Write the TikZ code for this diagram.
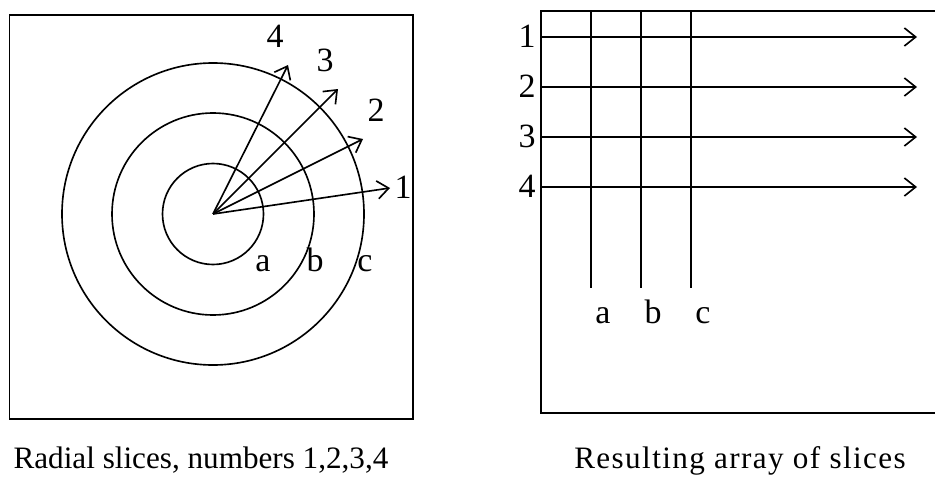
\documentclass[tikz,border=0pt]{standalone}
\usepackage{fontspec}
\setmainfont{Liberation Serif}
\newfontfamily\anchafont[LetterSpace=4.5]{Liberation Serif}
\usetikzlibrary{positioning,arrows.meta}

\begin{document}
\begin{tikzpicture}[x=0.03cm, y=-0.03cm,
  linea/.style={line width=1.4pt},
  flecha/.style={linea, -{Straight Barb[length=3.4mm, width=5.4mm, line width=1.4pt]}},
  etiq/.style={font=\fontsize{29}{29}\selectfont, inner sep=0pt, anchor=base},
  titulo/.style={font=\fontsize{26.6}{26.6}\selectfont, inner sep=0pt, anchor=base}]
  \useasboundingbox (0,0) rectangle (935,482);
  % cortes radiales
  \draw[linea] (9.5,14.7) rectangle (413,419);
  \coordinate (o) at (213,214);
  \foreach \r in {50.5,101,151}
    \draw[linea] (o) circle[radius=\r];
  \foreach \n/\x/\y in {1/390/188, 2/363/139, 3/338/89, 4/288/65} {
    \coordinate (p\n) at (\x,\y);
    \draw[flecha] (o) -- (p\n);
  }
  \node[etiq] (r4) at (275,48) {4};
  \node[etiq] (r3) at (325,72) {3};
  \node[etiq] (r2) at (376,122) {2};
  \node[etiq] (r1) at (403,198) {1};
  \node[etiq] (ca) at (263,271) {a};
  \node[etiq] (cb) at (315,271) {b};
  \node[etiq] (cc) at (365,271) {c};
  \node[titulo] (t1) at (201,468) {Radial slices, numbers 1,2,3,4};
  % arreglo resultante
  \coordinate (s1) at (935,11);
  \coordinate (s2) at (541,11);
  \coordinate (s3) at (541,413);
  \coordinate (s4) at (935,413);
  \draw[linea] (s1) -- (s2) -- (s3) -- (s4);
  \foreach \l/\x in {a/591, b/641, c/691} {
    \coordinate (v\l) at (\x,11);
    \coordinate (w\l) at (\x,288);
    \draw[linea] (v\l) -- (w\l);
    \node[etiq] (e\l) at (\x+12,323) {\l};
  }
  \foreach \n/\y in {1/37, 2/87, 3/137, 4/187} {
    \coordinate (h\n) at (541,\y);
    \coordinate (k\n) at (917,\y);
    \draw[flecha] (h\n) -- (k\n);
    \node[etiq] (f\n) at (527,\y+10.5) {\n};
  }
  \node[titulo, font=\anchafont\fontsize{26.6}{26.6}\selectfont] (t2) at (740,468) {Resulting array of slices};
\end{tikzpicture}
\end{document}
